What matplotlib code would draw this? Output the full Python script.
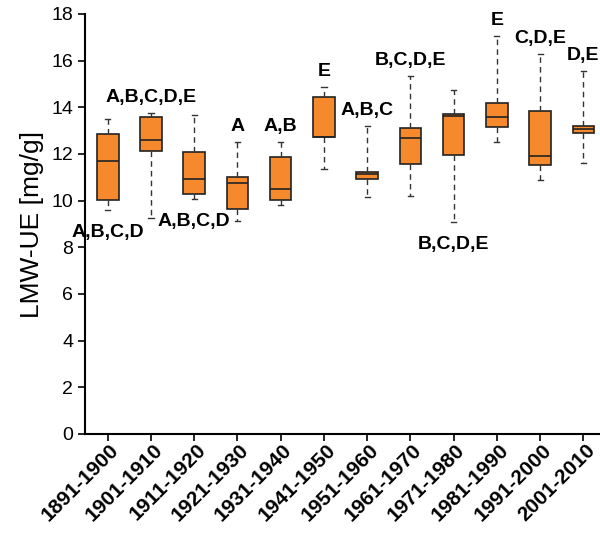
import matplotlib
matplotlib.use('Agg')
import matplotlib.pyplot as plt

plt.rcParams['font.family'] = ['Liberation Sans', 'DejaVu Sans']

decades = ['1891-1900', '1901-1910', '1911-1920', '1921-1930', '1931-1940', '1941-1950',
           '1951-1960', '1961-1970', '1971-1980', '1981-1990', '1991-2000', '2001-2010']
whisker_low = [9.60, 9.24, 10.06, 9.14, 9.81, 11.34, 10.17, 10.20, 9.07, 12.53, 10.87, 11.60]
q1 = [10.03, 12.13, 10.27, 9.63, 10.01, 12.71, 10.91, 11.59, 11.94, 13.17, 11.52, 12.91]
median = [11.69, 12.60, 10.94, 10.74, 10.49, 12.71, 11.14, 12.69, 13.64, 13.59, 11.90, 13.06]
q3 = [12.84, 13.57, 12.10, 11.00, 11.86, 14.46, 11.21, 13.13, 13.73, 14.20, 13.83, 13.21]
whisker_high = [13.49, 13.77, 13.67, 12.53, 12.51, 14.86, 13.21, 15.34, 14.73, 17.06, 16.29, 15.57]

# significance groups; 'below' ones sit under the lower whisker
groups = ['A,B,C,D', 'A,B,C,D,E', 'A,B,C,D', 'A', 'A,B', 'E',
          'A,B,C', 'B,C,D,E', 'B,C,D,E', 'E', 'C,D,E', 'D,E']
below = [True, False, True, False, False, False, False, False, True, False, False, False]

stats = []
for i, name in enumerate(decades):
    stats.append({'label': name, 'whislo': whisker_low[i], 'q1': q1[i], 'med': median[i],
                  'q3': q3[i], 'whishi': whisker_high[i]})

fig = plt.figure(figsize=(6.0, 5.34), dpi=100)
ax = fig.add_axes([85 / 600, 100 / 534, 520 / 600, 420 / 534])

positions = list(range(1, len(decades) + 1))
ax.bxp(stats, positions=positions, widths=0.5, showfliers=False, patch_artist=True,
       capwidths=0.12,
       boxprops=dict(facecolor='#f5892c', edgecolor='#222222', linewidth=1.2),
       medianprops=dict(color='#222222', linewidth=1.2),
       whiskerprops=dict(color='#333333', linewidth=1.0, linestyle=(0, (4, 3))),
       capprops=dict(color='#333333', linewidth=1.0))

for i, txt in enumerate(groups):
    if below[i]:
        y = whisker_low[i] - 0.95
    else:
        y = whisker_high[i] + 0.66
    ax.text(positions[i], y, txt, ha='center', va='center', fontsize=14, fontweight='bold')

ax.set_xlim(0.475, 12.5)
ax.set_ylim(0, 18)
ax.set_yticks(range(0, 19, 2))
ax.set_xticks(positions)
ax.set_xticklabels([])
# slanted decade labels, drawn by hand so they can sit a bit right of each tick
for p, name in zip(positions, decades):
    ax.annotate(name, xy=(p, 0), xycoords=('data', 'axes fraction'),
                xytext=(1.2, -4.5), textcoords='offset points',
                rotation=45, ha='right', va='top', rotation_mode='anchor',
                fontsize=15, fontweight='bold', annotation_clip=False)
ax.tick_params(axis='y', labelsize=14, length=5, width=1.2, direction='out')
ax.tick_params(axis='x', length=5, width=1.2, direction='out')
ax.set_ylabel('LMW-UE [mg/g]', fontsize=19, labelpad=5)
for side in ['top', 'right']:
    ax.spines[side].set_visible(False)
for side in ['left', 'bottom']:
    ax.spines[side].set_linewidth(1.5)

plt.savefig('out.png', dpi=100)
plt.close()
